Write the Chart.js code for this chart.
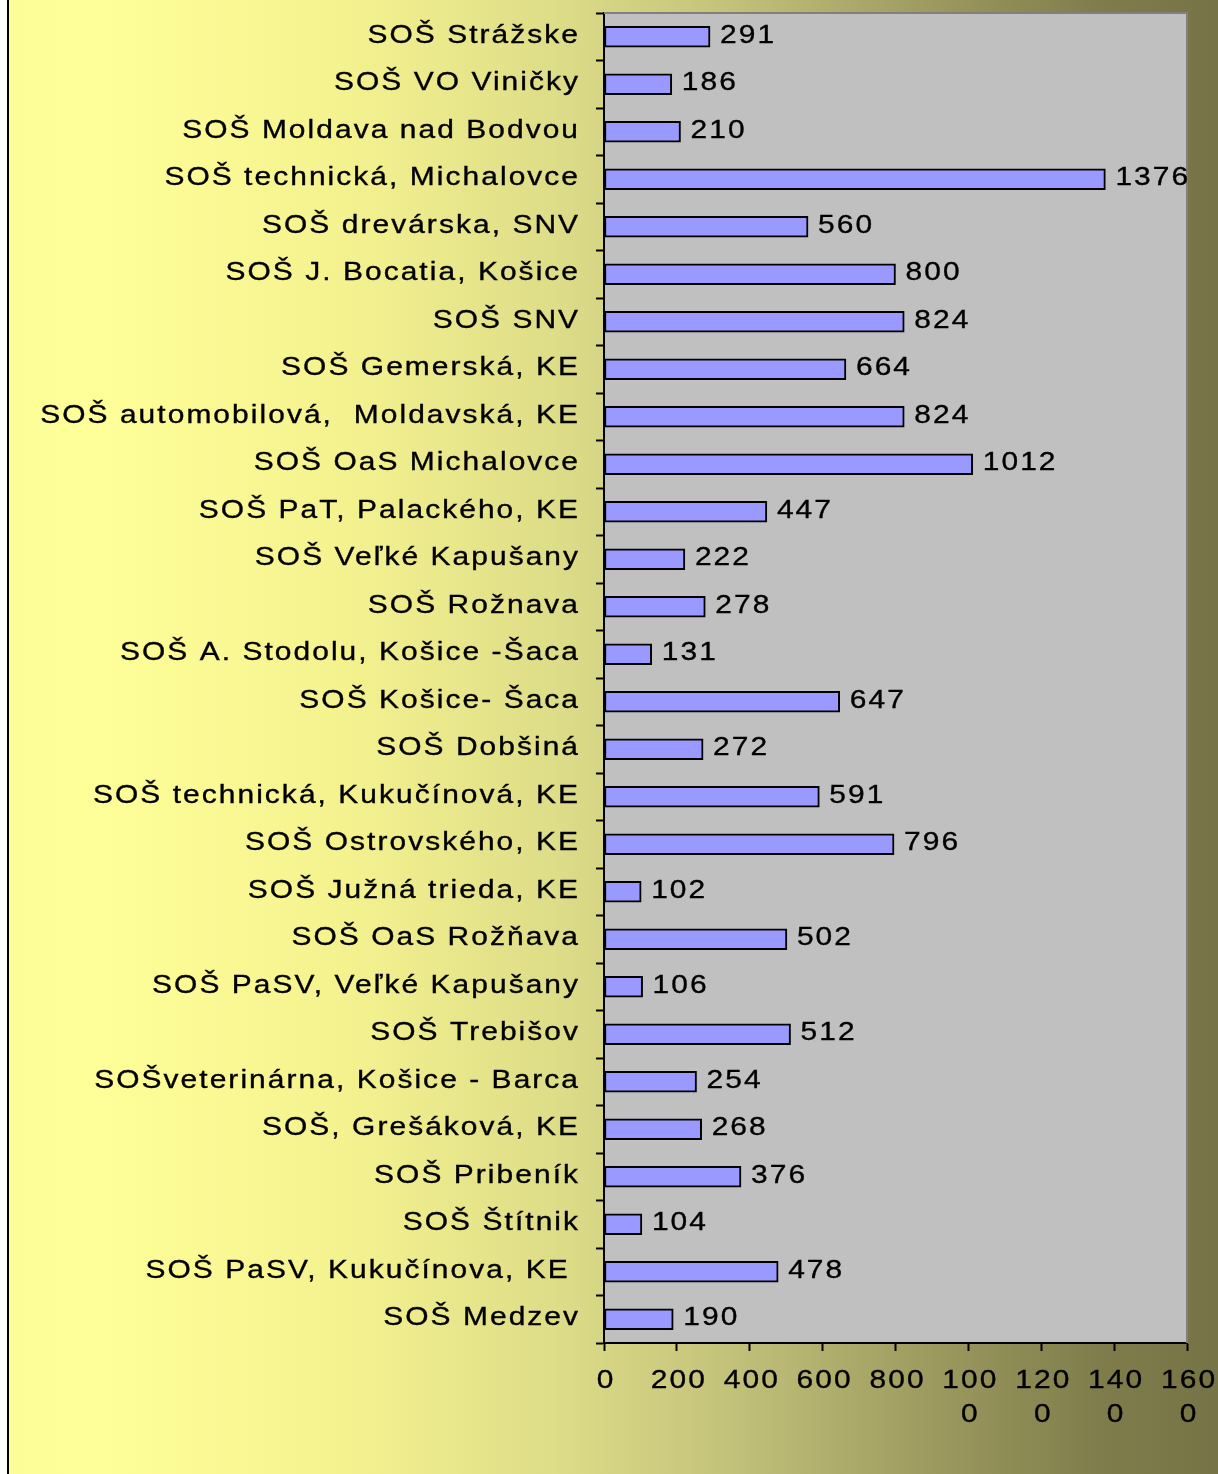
<!DOCTYPE html>
<html>
<head>
<meta charset="utf-8">
<script src="https://cdn.jsdelivr.net/npm/chart.js@4/dist/chart.umd.min.js"></script>
<style>
  html, body { margin: 0; padding: 0; background: #fff; }
  canvas { display: block; }
</style>
</head>
<body>
<canvas id="c" width="1218" height="1474"></canvas>
<script>
const categories = [
  "SOŠ Strážske",
  "SOŠ VO Viničky",
  "SOŠ Moldava nad Bodvou",
  "SOŠ technická, Michalovce",
  "SOŠ drevárska, SNV",
  "SOŠ J. Bocatia, Košice",
  "SOŠ SNV",
  "SOŠ Gemerská, KE",
  "SOŠ automobilová,  Moldavská, KE",
  "SOŠ OaS Michalovce",
  "SOŠ PaT, Palackého, KE",
  "SOŠ Veľké Kapušany",
  "SOŠ Rožnava",
  "SOŠ A. Stodolu, Košice -Šaca",
  "SOŠ Košice- Šaca",
  "SOŠ Dobšiná",
  "SOŠ technická, Kukučínová, KE",
  "SOŠ Ostrovského, KE",
  "SOŠ Južná trieda, KE",
  "SOŠ OaS Rožňava",
  "SOŠ PaSV, Veľké Kapušany",
  "SOŠ Trebišov",
  "SOŠveterinárna, Košice - Barca",
  "SOŠ, Grešáková, KE",
  "SOŠ Pribeník",
  "SOŠ Štítnik",
  "SOŠ PaSV, Kukučínova, KE ",
  "SOŠ Medzev"
];
const values = [291, 186, 210, 1376, 560, 800, 824, 664, 824, 1012, 447, 222, 278, 131, 647, 272, 591, 796, 102, 502, 106, 512, 254, 268, 376, 104, 478, 190];
const xTickLabels = ["0", "200", "400", "600", "800", ["100", "0"], ["120", "0"], ["140", "0"], ["160", "0"]];

const FAMILY = "'Liberation Sans', Arial, sans-serif";
const FSIZE = 26;
const SX = 1.15;     // horizontal stretch of the text
const LS = 1.8;      // letter spacing in px (before stretch)

function drawText(ctx, text, x, y, align) {
  ctx.save();
  ctx.translate(x, y);
  ctx.scale(SX, 1);
  ctx.font = FSIZE + 'px ' + FAMILY;
  try { ctx.letterSpacing = LS + 'px'; } catch (e) {}
  ctx.fillStyle = '#000000';
  ctx.strokeStyle = '#000000';
  ctx.lineWidth = 0.35;
  ctx.textAlign = align;
  ctx.textBaseline = 'middle';
  let dx = 0;
  if (align === 'right') dx = LS;          // drop trailing spacing
  if (align === 'center') dx = LS / 2;
  ctx.fillText(text, dx, 0);
  ctx.strokeText(text, dx, 0);
  ctx.restore();
}

const customPlugin = {
  id: 'custom',
  beforeDraw(chart) {
    const ctx = chart.ctx;
    const W = chart.width, H = chart.height;
    ctx.save();
    ctx.fillStyle = '#ffffff';
    ctx.fillRect(0, 0, W, H);
    const g = ctx.createLinearGradient(9, 0, W, 0);
    g.addColorStop(0, '#FDFD97');
    g.addColorStop(0.07, '#FFFF99');
    g.addColorStop(0.28, '#F4F28F');
    g.addColorStop(0.45, '#DEDD88');
    g.addColorStop(0.6, '#C2C17A');
    g.addColorStop(0.75, '#9F9D61');
    g.addColorStop(0.9, '#7F7D4B');
    g.addColorStop(1, '#767446');
    ctx.fillStyle = g;
    ctx.fillRect(9, 0, W - 9, H);
    ctx.fillStyle = '#000000';
    ctx.fillRect(7, 0, 2, H);
    const a = chart.chartArea;
    ctx.fillStyle = '#C0C0C0';
    ctx.fillRect(a.left, a.top, a.right - a.left, a.bottom - a.top);
    ctx.restore();
  },
  afterDatasetsDraw(chart) {
    const ctx = chart.ctx;
    const a = chart.chartArea;
    ctx.save();
    ctx.strokeStyle = '#808080';
    ctx.lineWidth = 2;
    ctx.beginPath();
    ctx.moveTo(a.left, a.top);
    ctx.lineTo(a.right, a.top);
    ctx.lineTo(a.right, a.bottom);
    ctx.stroke();
    ctx.restore();

    // value labels
    const meta = chart.getDatasetMeta(0);
    meta.data.forEach((bar, i) => {
      drawText(ctx, String(values[i]), bar.x + 10, bar.y - 1, 'left');
    });

    // category labels (y axis)
    const ys = chart.scales.y;
    ys.ticks.forEach((t, i) => {
      const y = ys.getPixelForTick(i);
      drawText(ctx, String(ys.getLabelForValue(t.value)), 578, y - 1, 'right');
    });

    // x axis tick labels
    const xs = chart.scales.x;
    xs.ticks.forEach((t, i) => {
      const x = xs.getPixelForTick(i);
      const lab = xTickLabels[i];
      const lines = Array.isArray(lab) ? lab : [lab];
      lines.forEach((ln, j) => {
        drawText(ctx, ln, x + 1, xs.top + 38 + j * 34, 'center');
      });
    });
  }
};

new Chart(document.getElementById('c'), {
  type: 'bar',
  data: {
    labels: categories,
    datasets: [{
      data: values,
      backgroundColor: '#9999FF',
      borderColor: '#000000',
      borderWidth: 2,
      borderSkipped: false,
      barThickness: 21
    }]
  },
  plugins: [customPlugin],
  options: {
    indexAxis: 'y',
    responsive: false,
    animation: false,
    devicePixelRatio: 1,
    layout: { padding: { top: 13, right: 31, left: 0, bottom: 0 } },
    plugins: { legend: { display: false }, tooltip: { enabled: false }, title: { display: false } },
    scales: {
      x: {
        type: 'linear',
        min: 0,
        max: 1600,
        afterFit(scale) { scale.height = 131; scale.paddingLeft = 0; scale.paddingRight = 0; },
        ticks: {
          stepSize: 200,
          color: 'rgba(0,0,0,0)',
          font: { family: FAMILY, size: FSIZE },
          padding: 13,
          maxRotation: 0,
          autoSkip: false,
          callback: (v, i) => xTickLabels[i]
        },
        grid: { display: true, drawOnChartArea: false, drawTicks: true, tickLength: 8, tickColor: '#000', tickWidth: 2 },
        border: { display: true, color: '#000', width: 2 }
      },
      y: {
        afterFit(scale) { scale.width = 604; scale.paddingTop = 0; scale.paddingBottom = 0; },
        ticks: {
          color: 'rgba(0,0,0,0)',
          font: { family: FAMILY, size: FSIZE },
          padding: 16,
          autoSkip: false
        },
        grid: { display: true, offset: true, drawOnChartArea: false, drawTicks: true, tickLength: 8, tickColor: '#000', tickWidth: 2 },
        border: { display: true, color: '#000', width: 2 }
      }
    }
  }
});
</script>
</body>
</html>
